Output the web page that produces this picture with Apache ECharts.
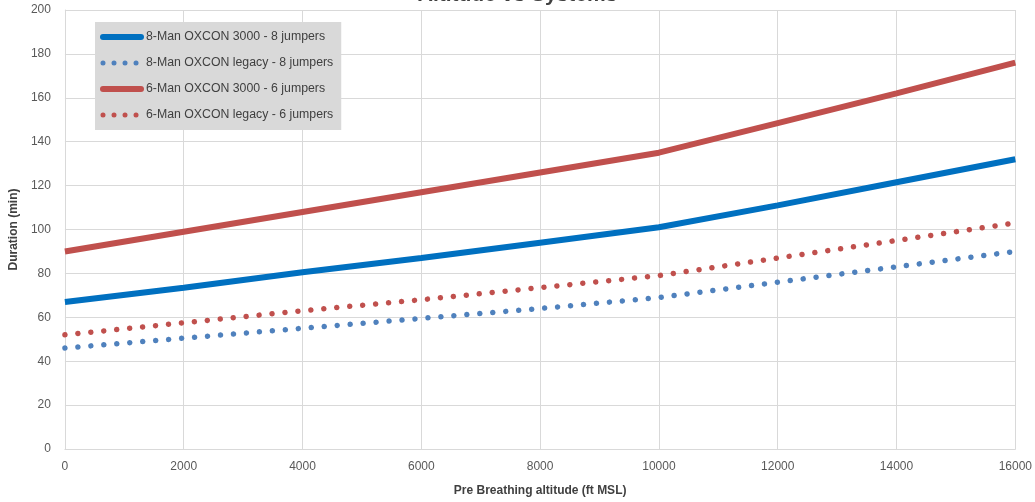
<!DOCTYPE html>
<html><head><meta charset="utf-8">
<script src="https://cdn.jsdelivr.net/npm/echarts@6/dist/echarts.min.js"></script>
<style>html,body{margin:0;padding:0;background:#fff}#c{width:1035px;height:502px}</style>
</head><body><div id="c"></div>
<script>
const altitudes = [0, 2000, 4000, 6000, 8000, 10000, 12000, 14000, 16000];
const man8_3000 = [67, 73.5, 80.5, 87, 94, 101, 111, 121.5, 132];
const man8_legacy = [46, 50.5, 55, 59.5, 64, 69, 76, 83, 90];
const man6_3000 = [90, 99, 108, 117, 126, 135, 148.5, 162, 176];
const man6_legacy = [52, 57.5, 63, 68, 73.5, 79, 87, 95, 103];
const seriesNames = ['8-Man OXCON 3000 - 8 jumpers','8-Man OXCON legacy - 8 jumpers','6-Man OXCON 3000 - 6 jumpers','6-Man OXCON legacy - 6 jumpers'];
const titleText = 'Altitude vs Systems';
const xName = 'Pre Breathing altitude (ft MSL)';
const yName = 'Duration (min)';

const pair = arr => altitudes.map((a,i)=>[a, arr[i]]);
const font = 'Liberation Sans';
const chart = echarts.init(document.getElementById('c'));
const dotStyle = color => ({color, width:5.5, type:[0.01, 13], cap:'round'});
const solidStyle = color => ({color, width:6, cap:'butt'});
const mk = (name, data, color, dotted) => ({
  name, type:'line', data:pair(data), symbol:'none', smooth:false,
  lineStyle: dotted ? dotStyle(color) : solidStyle(color),
  itemStyle:{color}
});
const colors = ['#0070C0', '#4F81BD', '#C0504D', '#C0504D'];
const dotted = [false, true, false, true];
chart.setOption({
  animation:false,
  title:{text:titleText, left:'center', top:-20, textStyle:{fontFamily:font, fontSize:21, fontWeight:'bold', color:'#404040'}},
  grid:{left:62, right:19, top:10, bottom:52},
  legend:{orient:'vertical', left:95, top:22, backgroundColor:'#D9D9D9', padding:[9,8,9,5], itemWidth:38, itemHeight:8, itemGap:14,
    textStyle:{fontFamily:font, fontSize:12.3, color:'#404040'},
    data: seriesNames.map((n,i)=>({name:n, itemStyle:{opacity:0},
      lineStyle: dotted[i] ? {color:colors[i], width:5, type:[0.01, 11], cap:'round'} : {color:colors[i], width:6, cap:'round'}}))},
  xAxis:{type:'value', min:0, max:16000, interval:2000, name:xName, nameLocation:'middle', nameGap:36,
    nameTextStyle:{fontFamily:font, fontWeight:'bold', fontSize:12, color:'#404040'},
    axisLine:{lineStyle:{color:'#D9D9D9'}}, axisTick:{show:false},
    axisLabel:{fontFamily:font, fontSize:12, color:'#595959', margin:12, formatter: v => String(v)},
    splitLine:{show:true, lineStyle:{color:'#D9D9D9'}}},
  yAxis:{type:'value', min:0, max:200, interval:20, name:yName, nameLocation:'middle', nameGap:40,
    nameTextStyle:{fontFamily:font, fontWeight:'bold', fontSize:12, color:'#404040'},
    axisLine:{show:true, lineStyle:{color:'#D9D9D9'}}, axisTick:{show:false},
    axisLabel:{fontFamily:font, fontSize:12, color:'#595959', margin:14},
    splitLine:{show:true, lineStyle:{color:'#D9D9D9'}}},
  series: seriesNames.map((n,i)=>mk(n, [man8_3000, man8_legacy, man6_3000, man6_legacy][i], colors[i], dotted[i]))
});
</script></body></html>
